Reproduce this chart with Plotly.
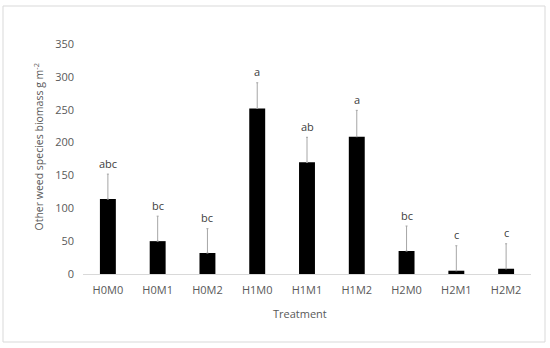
import plotly.graph_objects as go

treatments = ["H0M0", "H0M1", "H0M2", "H1M0", "H1M1", "H1M2", "H2M0", "H2M1", "H2M2"]
biomass = [114, 50, 32, 252, 170, 209, 35, 5, 8]
error_plus = [38, 38, 37, 39, 38, 40, 38, 38, 38]
letters = ["abc", "bc", "bc", "a", "ab", "a", "bc", "c", "c"]

FONT = "Open Sans"
GREY = "#595959"

fig = go.Figure()
fig.add_trace(go.Bar(
    x=treatments, y=biomass,
    marker=dict(color="black", line=dict(width=0)),
    width=0.32,
    error_y=dict(type="data", symmetric=False, array=error_plus,
                 arrayminus=[0] * len(biomass),
                 color="#a6a6a6", thickness=1, width=1),
    showlegend=False,
    hoverinfo="skip",
))

for t, v, e, l in zip(treatments, biomass, error_plus, letters):
    fig.add_annotation(x=t, y=v + e, text=l, showarrow=False,
                       xref="x", yref="y", yanchor="middle", yshift=11,
                       font=dict(family=FONT, size=11, color="#404040"))

L, R, T, B = 83, 531, 44, 274
W, H = 550, 348
pw, ph = R - L, B - T

def px_x(x):
    return (x - L) / pw

def px_y(y):
    return (B - y) / ph

fig.add_shape(type="rect", xref="paper", yref="paper",
              x0=px_x(3), x1=px_x(545), y0=px_y(342), y1=px_y(6),
              line=dict(color="#d9d9d9", width=1), fillcolor="rgba(0,0,0,0)",
              layer="below")

fig.add_annotation(xref="paper", yref="paper", x=px_x(38), y=px_y(147.5),
                   text="Other weed species biomass g m<sup>-2</sup>",
                   textangle=-90, showarrow=False, xanchor="center", yanchor="middle",
                   font=dict(family=FONT, size=10.5, color=GREY))
fig.add_annotation(xref="paper", yref="paper", x=px_x(300), y=px_y(313),
                   text="Treatment", showarrow=False, xanchor="center", yanchor="middle",
                   font=dict(family=FONT, size=11, color=GREY))

fig.update_layout(
    width=W, height=H,
    margin=dict(l=L, r=W - R, t=T, b=H - B),
    paper_bgcolor="white", plot_bgcolor="white",
    font=dict(family=FONT, size=11, color=GREY),
    bargap=0.68,
    xaxis=dict(type="category", showline=True, linecolor="#d9d9d9", linewidth=1,
               showgrid=False, ticks="", ticklabelstandoff=6,
               tickfont=dict(family=FONT, size=11, color=GREY)),
    yaxis=dict(range=[0, 350], dtick=50, showgrid=False, showline=False,
               zeroline=False, ticks="", ticklabelstandoff=8,
               tickfont=dict(family=FONT, size=11, color=GREY)),
)

fig.write_html("out.html",
               config={"displayModeBar": False},
               post_script="document.body.style.margin='0';document.body.style.overflow='hidden';")
